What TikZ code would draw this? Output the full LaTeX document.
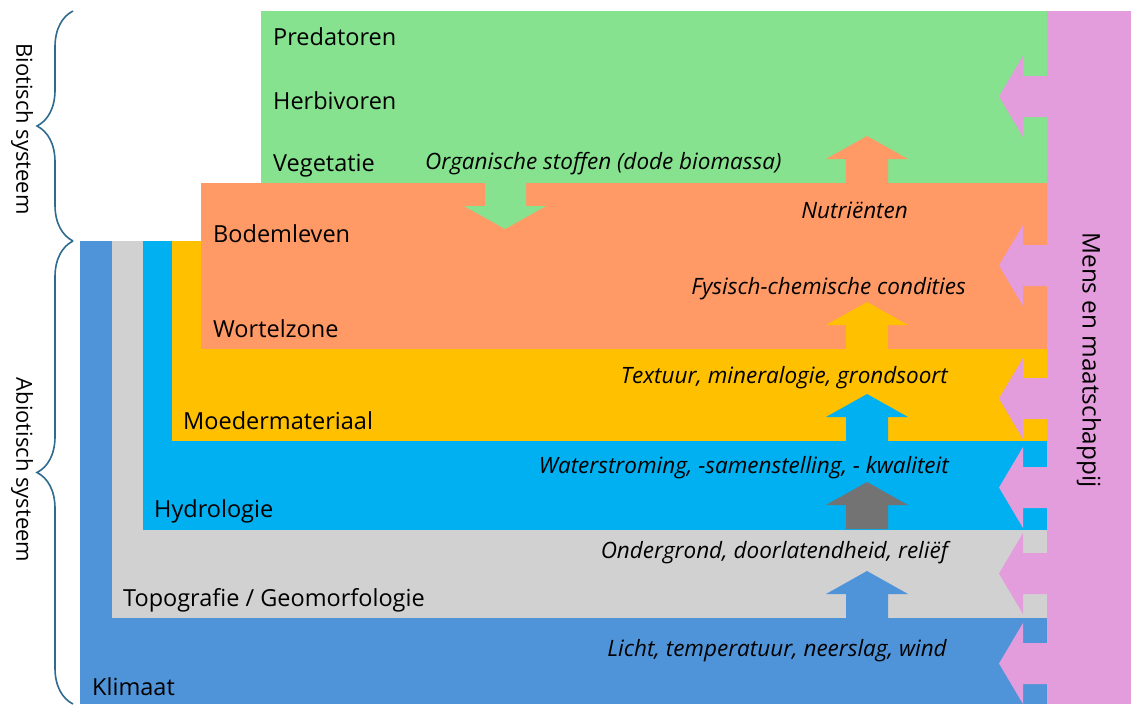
\documentclass[tikz,border=0pt]{standalone}
\usepackage{fontspec}
\setmainfont{Open Sans}
\usepackage{tikz}
\usetikzlibrary{positioning,calc,decorations.pathreplacing}

\definecolor{groen}{HTML}{86E28E}
\definecolor{zalm}{HTML}{FF9966}
\definecolor{geel}{HTML}{FFC000}
\definecolor{water}{HTML}{00B0F0}
\definecolor{grijs}{HTML}{D1D1D1}
\definecolor{klimaat}{HTML}{4F94D8}
\definecolor{mens}{HTML}{E39CDC}
\definecolor{donker}{HTML}{737373}
\definecolor{accolade}{HTML}{2E6B8E}

\tikzset{
	naam/.style = {anchor=base west, inner sep=0pt, font=\fontsize{23.5}{28}\selectfont},
	stroom/.style = {anchor=base east, inner sep=0pt, font=\itshape\fontsize{22.5}{27}\selectfont},
	systeem/.style = {rotate=-90, inner sep=0pt, font=\fontsize{22}{26}\selectfont},
	haak/.style = {draw=accolade, line width=1.6pt, decorate,
		decoration={brace, amplitude=36pt}}
}

\begin{document}
\begin{tikzpicture}[x=1pt,y=-1pt]
		\useasboundingbox (0,0) rectangle (1132,704);

		% lagen, van onder naar boven
		\fill [klimaat] (80,241) rectangle (1047,704);
		\fill [grijs] (112,241) rectangle (1047,618);
		\fill [water] (143,241) rectangle (1047,530);
		\fill [geel] (172,241) rectangle (1047,441);
		\fill [zalm] (201,183) rectangle (1047,349);
		\fill [groen] (261,11) rectangle (1047,183);
		\fill [mens] (1047,11) rectangle (1131,704);

		% pijlen van mens en maatschappij
		\fill [mens] (1047,76) -- ++(-24,0) -- ++(0,-20) -- ++(-24,40.5) -- ++(24,40.5) -- ++(0,-20) -- ++(24,0) -- cycle;
		\fill [mens] (1047,245) -- ++(-24,0) -- ++(0,-20) -- ++(-24,40.5) -- ++(24,40.5) -- ++(0,-20) -- ++(24,0) -- cycle;
		\fill [mens] (1047,378) -- ++(-24,0) -- ++(0,-20) -- ++(-24,40.5) -- ++(24,40.5) -- ++(0,-20) -- ++(24,0) -- cycle;
		\fill [mens] (1047,467) -- ++(-24,0) -- ++(0,-20) -- ++(-24,40.5) -- ++(24,40.5) -- ++(0,-20) -- ++(24,0) -- cycle;
		\fill [mens] (1047,553) -- ++(-24,0) -- ++(0,-20) -- ++(-24,40.5) -- ++(24,40.5) -- ++(0,-20) -- ++(24,0) -- cycle;
		\fill [mens] (1047,643) -- ++(-24,0) -- ++(0,-20) -- ++(-24,40.5) -- ++(24,40.5) -- ++(0,-20) -- ++(24,0) -- cycle;

		% pijlen tussen de lagen
		\fill [zalm] (846,183) -- ++(0,-24) -- ++(-20,0) -- ++(41,-23) -- ++(41,23) -- ++(-20,0) -- ++(0,24) -- cycle;
		\fill [geel] (846,349) -- ++(0,-24) -- ++(-20,0) -- ++(41,-23) -- ++(41,23) -- ++(-20,0) -- ++(0,24) -- cycle;
		\fill [water] (846,441) -- ++(0,-24) -- ++(-20,0) -- ++(41,-23) -- ++(41,23) -- ++(-20,0) -- ++(0,24) -- cycle;
		\fill [donker] (846,529) -- ++(0,-24) -- ++(-20,0) -- ++(41,-23) -- ++(41,23) -- ++(-20,0) -- ++(0,24) -- cycle;
		\fill [klimaat] (846,618) -- ++(0,-24) -- ++(-20,0) -- ++(41,-23) -- ++(41,23) -- ++(-20,0) -- ++(0,24) -- cycle;
		\fill [groen] (485,183) -- ++(0,23) -- ++(-21,0) -- ++(41,23) -- ++(41,-23) -- ++(-20,0) -- ++(0,-23) -- cycle;

		\node [naam] (pred) at (273,45) {Predatoren};
		\node [naam] (herb) at (273,109) {Herbivoren};
		\node [naam] (veg) at (273,171) {Vegetatie};
		\node [naam] (bodem) at (213,242) {Bodemleven};
		\node [naam] (wortel) at (213,337) {Wortelzone};
		\node [naam] (moeder) at (183,429) {Moedermateriaal};
		\node [naam] (hydro) at (154,517) {Hydrologie};
		\node [naam] (topo) at (123,606) {Topografie / Geomorfologie};
		\node [naam] (klim) at (92,695) {Klimaat};

		\node [stroom, anchor=base west] (org) at (425,169) {Organische stoffen (dode biomassa)};
		\node [stroom] (nutr) at (908,218) {Nutriënten};
		\node [stroom] (fys) at (966,294) {Fysisch-chemische condities};
		\node [stroom] (text) at (948,383) {Textuur, mineralogie, grondsoort};
		\node [stroom] (water) at (949,473) {Waterstroming, -samenstelling, - kwaliteit};
		\node [stroom] (onder) at (948,558) {Ondergrond, doorlatendheid, reliëf};
		\node [stroom] (licht) at (947,656) {Licht, temperatuur, neerslag, wind};

		\node [systeem, font=\fontsize{24.3}{29}\selectfont] (mens) at (1089,360) {Mens en maatschappij};

		% accolades
		\coordinate (bio boven) at (73,11);
		\coordinate (bio onder) at (73,241);
		\coordinate (abio onder) at (73,704);
		\draw [haak] (bio onder) -- (bio boven);
		\draw [haak] (abio onder) -- (bio onder);
		\node [systeem] (bio) at (22,129) {Biotisch systeem};
		\node [systeem] (abio) at (22,470) {Abiotisch systeem};
	\end{tikzpicture}
\end{document}
